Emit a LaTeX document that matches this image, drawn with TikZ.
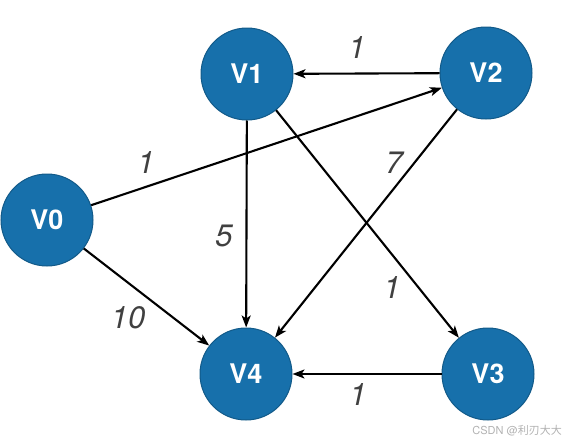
\documentclass[tikz,border=0pt]{standalone}
\usepackage{fontspec}
\setmainfont{TeX Gyre Heros}
\newfontfamily\cjkfont{Noto Sans CJK SC}
\usepackage{tikz}
\usetikzlibrary{arrows.meta}

\definecolor{vblue}{HTML}{1770AB}

\begin{document}
\begin{tikzpicture}[
    x=1pt, y=-1pt,
    vertex/.style={circle, draw=vblue!80!black, fill=vblue, line width=1pt, minimum size=92pt, inner sep=0pt, text=white, font=\fontsize{27}{27}\selectfont\bfseries},
    edge/.style={-{Stealth[length=12pt, width=9pt, inset=3pt]}, line width=2.1pt, draw=black},
    weight/.style={font=\fontsize{31}{31}\selectfont\itshape, text=black!75}
]
    \useasboundingbox (0,0) rectangle (566,442);

    \node [vertex] (v0) at (47,220) {V0};
    \node [vertex] (v1) at (247,74) {V1};
    \node [vertex] (v2) at (486,73) {V2};
    \node [vertex] (v3) at (488,374) {V3};
    \node [vertex] (v4) at (246,374) {V4};

    \draw [edge] (v2) -- (v1);
    \draw [edge] (v0) -- (v2);
    \draw [edge] (v1) -- (v4);
    \draw [edge] (v1) -- (v3);
    \draw [edge] (v2) -- (v4);
    \draw [edge] (v0) -- (v4);
    \draw [edge] (v3) -- (v4);

    % weights
    \node [weight] (w21) at (357,48) {1};
    \node [weight] (w02) at (146,163) {1};
    \node [weight] (w24) at (394,163) {7};
    \node [weight] (w14) at (224,236) {5};
    \node [weight] (w04) at (128,318) {10};
    \node [weight] (w13) at (392,288) {1};
    \node [weight] (w34) at (358,395) {1};

    \node [anchor=east, inner sep=0pt, text=black!30, font=\fontsize{11}{11}\selectfont] (mark) at (562,431) {CSDN @{\cjkfont 利刃大大}};
\end{tikzpicture}
\end{document}
